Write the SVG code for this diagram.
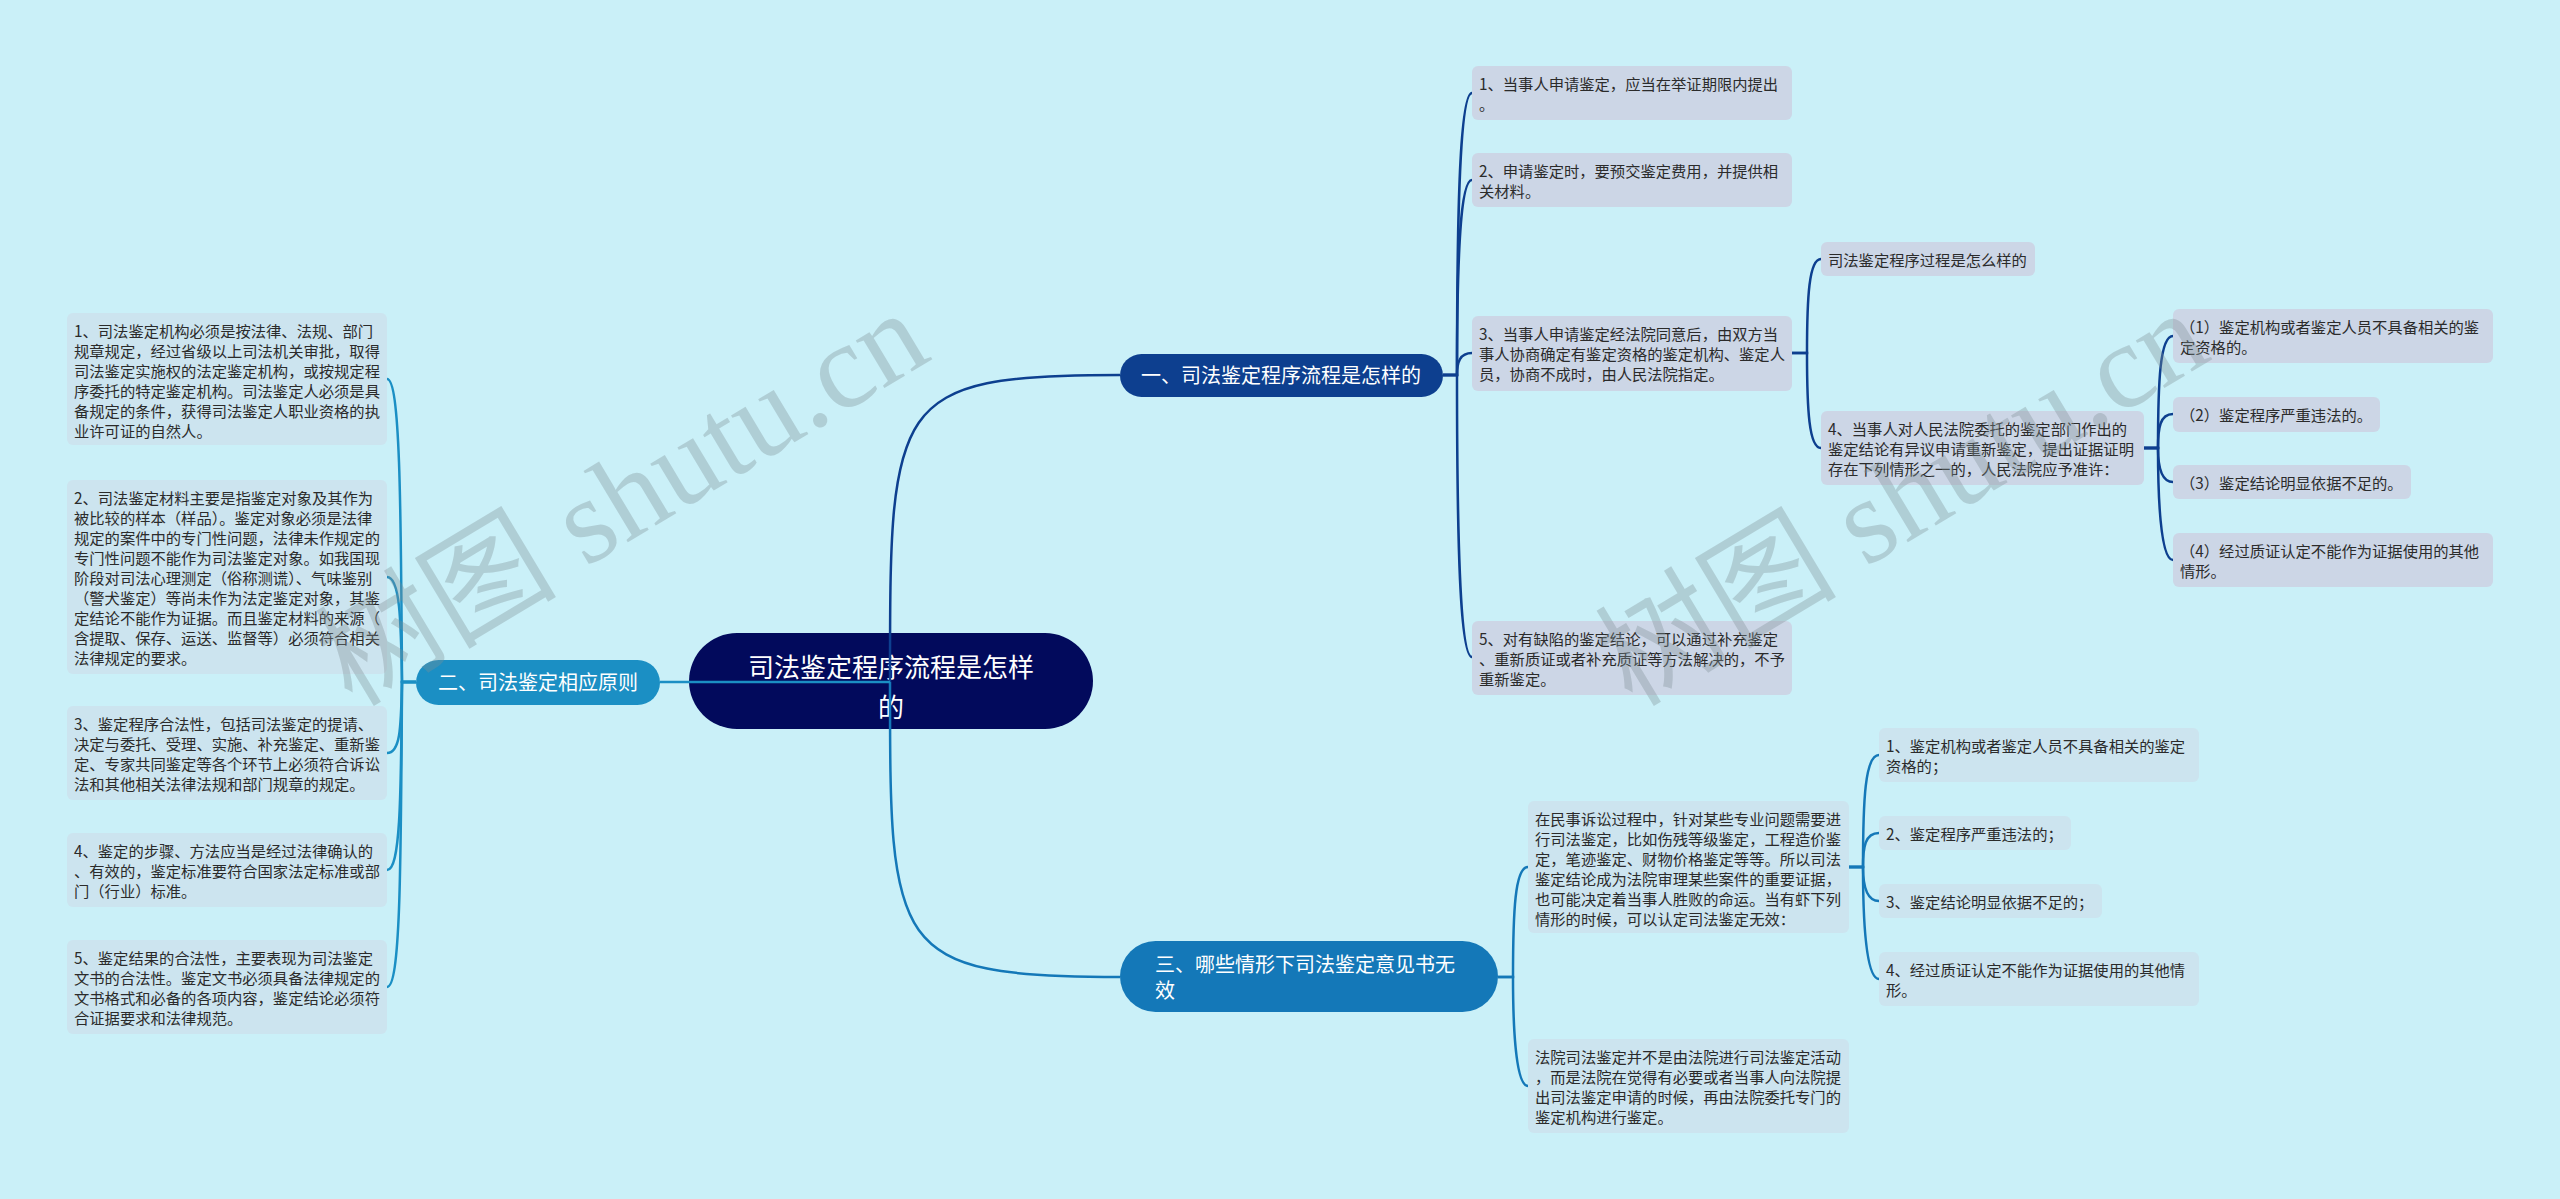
<svg xmlns="http://www.w3.org/2000/svg" width="2560" height="1199" viewBox="0 0 2560 1199">
<style>
.t{font-family:"Noto Sans CJK SC","Noto Sans",sans-serif;font-size:15.3px;fill:#2b2b2b}
.ca{fill:#ccd6e6}
.cb{fill:#cce4ef}
.w{font-family:"Noto Sans CJK SC","Noto Sans",sans-serif;fill:#ffffff}
.l1{fill:none;stroke:#0d3f8f;stroke-width:2.5}
.l2{fill:none;stroke:#1b8fc4;stroke-width:2.5}
.l3{fill:none;stroke:#1478b8;stroke-width:2.5}
.wm{font-family:"Liberation Serif","Noto Sans CJK SC",serif;font-size:121px;fill:#7f8f95;fill-opacity:0.35}
</style>
<rect x="0" y="0" width="2560" height="1199" fill="#caf0f8"/>

<g id="root">
<rect x="689" y="633" width="404" height="96" rx="48" fill="#020a5c"/>
<text class="w" x="891" y="677" font-size="26" text-anchor="middle">司法鉴定程序流程是怎样</text>
<text class="w" x="891" y="717" font-size="26" text-anchor="middle">的</text>
</g>

<g id="connectors">
<path class="l1" d="M890,682 C890,400 890,375 1120,375"/>
<path class="l3" d="M890,682 C890,950 890,977 1120,977"/>
<path class="l2" d="M890,682 H660"/>
<path class="l1" d="M1443,375 H1457 C1457,206 1460,93 1472,93"/>
<path class="l1" d="M1443,375 H1457 C1457,258 1460,180 1472,180"/>
<path class="l1" d="M1443,375 H1457 C1457,362 1460,353 1472,353"/>
<path class="l1" d="M1443,375 H1457 C1457,545 1460,657 1472,657"/>
<path class="l1" d="M1792,353 H1807 C1807,297 1809,259 1821,259"/>
<path class="l1" d="M1792,353 H1807 C1807,410 1809,448 1821,448"/>
<path class="l1" d="M2144,448 H2158 C2158,381 2160,336 2173,336"/>
<path class="l1" d="M2144,448 H2158 C2158,428 2160,414 2173,414"/>
<path class="l1" d="M2144,448 H2158 C2158,462 2160,482 2173,482"/>
<path class="l1" d="M2144,448 H2158 C2158,493 2160,560 2173,560"/>
<path class="l3" d="M1498,977 H1513 C1513,911 1515,867 1528,867"/>
<path class="l3" d="M1498,977 H1513 C1513,1020 1515,1086 1528,1086"/>
<path class="l3" d="M1849,867 H1863 C1863,800 1865,755 1879,755"/>
<path class="l3" d="M1849,867 H1863 C1863,847 1865,833 1879,833"/>
<path class="l3" d="M1849,867 H1863 C1863,881 1865,901 1879,901"/>
<path class="l3" d="M1849,867 H1863 C1863,912 1865,979 1879,979"/>
<path class="l2" d="M416,682 H402 C401,500 400,379 387,379"/>
<path class="l2" d="M416,682 H402 C401,620 400,577 387,577"/>
<path class="l2" d="M416,682 H402 C401,730 400,753 387,753"/>
<path class="l2" d="M416,682 H402 C401,805 400,870 387,870"/>
<path class="l2" d="M416,682 H402 C401,880 400,987 387,987"/>
</g>

<g id="b1">
<rect x="1120" y="354" width="323" height="43" rx="21.5" fill="#0d3f8f"/>
<text class="w" x="1281" y="383" font-size="20" text-anchor="middle">一、司法鉴定程序流程是怎样的</text>
</g>
<g id="b2">
<rect x="416" y="660" width="244" height="45" rx="22.5" fill="#1b8fc4"/>
<text class="w" x="538" y="690" font-size="20" text-anchor="middle">二、司法鉴定相应原则</text>
</g>
<g id="b3">
<rect x="1120" y="941" width="378" height="71" rx="35.5" fill="#1478b8"/>
<text class="w" x="1155" y="972" font-size="20">三、哪些情形下司法鉴定意见书无</text>
<text class="w" x="1155" y="998" font-size="20">效</text>
</g>

<g id="b1-1">
<rect class="ca" x="1472" y="66" width="320" height="54" rx="6"/>
<text class="t" x="1479" y="90">1、当事人申请鉴定，应当在举证期限内提出</text>
<text class="t" x="1479" y="110">。</text>
</g>
<g id="b1-2">
<rect class="ca" x="1472" y="153" width="320" height="54" rx="6"/>
<text class="t" x="1479" y="177">2、申请鉴定时，要预交鉴定费用，并提供相</text>
<text class="t" x="1479" y="197">关材料。</text>
</g>
<g id="b1-3">
<rect class="ca" x="1472" y="316" width="320" height="75" rx="6"/>
<text class="t" x="1479" y="340">3、当事人申请鉴定经法院同意后，由双方当</text>
<text class="t" x="1479" y="360">事人协商确定有鉴定资格的鉴定机构、鉴定人</text>
<text class="t" x="1479" y="380">员，协商不成时，由人民法院指定。</text>
</g>
<g id="b1-5">
<rect class="ca" x="1472" y="621" width="320" height="74" rx="6"/>
<text class="t" x="1479" y="645">5、对有缺陷的鉴定结论，可以通过补充鉴定</text>
<text class="t" x="1479" y="665">、重新质证或者补充质证等方法解决的，不予</text>
<text class="t" x="1479" y="685">重新鉴定。</text>
</g>
<g id="b1-3a">
<rect class="ca" x="1821" y="242" width="214" height="34" rx="6"/>
<text class="t" x="1828" y="266">司法鉴定程序过程是怎么样的</text>
</g>
<g id="b1-3b">
<rect class="ca" x="1821" y="411" width="323" height="74" rx="6"/>
<text class="t" x="1828" y="435">4、当事人对人民法院委托的鉴定部门作出的</text>
<text class="t" x="1828" y="455">鉴定结论有异议申请重新鉴定，提出证据证明</text>
<text class="t" x="1828" y="475">存在下列情形之一的，人民法院应予准许：</text>
</g>
<g id="b1-3b-1">
<rect class="ca" x="2173" y="309" width="320" height="54" rx="6"/>
<text class="t" x="2180" y="333">（1）鉴定机构或者鉴定人员不具备相关的鉴</text>
<text class="t" x="2180" y="353">定资格的。</text>
</g>
<g id="b1-3b-2">
<rect class="ca" x="2173" y="397" width="207" height="35" rx="6"/>
<text class="t" x="2180" y="421">（2）鉴定程序严重违法的。</text>
</g>
<g id="b1-3b-3">
<rect class="ca" x="2173" y="465" width="238" height="34" rx="6"/>
<text class="t" x="2180" y="489">（3）鉴定结论明显依据不足的。</text>
</g>
<g id="b1-3b-4">
<rect class="ca" x="2173" y="533" width="320" height="54" rx="6"/>
<text class="t" x="2180" y="557">（4）经过质证认定不能作为证据使用的其他</text>
<text class="t" x="2180" y="577">情形。</text>
</g>

<g id="b2-1">
<rect class="cb" x="67" y="313" width="320" height="132" rx="6"/>
<text class="t" x="74" y="337">1、司法鉴定机构必须是按法律、法规、部门</text>
<text class="t" x="74" y="357">规章规定，经过省级以上司法机关审批，取得</text>
<text class="t" x="74" y="377">司法鉴定实施权的法定鉴定机构，或按规定程</text>
<text class="t" x="74" y="397">序委托的特定鉴定机构。司法鉴定人必须是具</text>
<text class="t" x="74" y="417">备规定的条件，获得司法鉴定人职业资格的执</text>
<text class="t" x="74" y="437">业许可证的自然人。</text>
</g>
<g id="b2-2">
<rect class="cb" x="67" y="480" width="320" height="194" rx="6"/>
<text class="t" x="74" y="504">2、司法鉴定材料主要是指鉴定对象及其作为</text>
<text class="t" x="74" y="524">被比较的样本（样品）。鉴定对象必须是法律</text>
<text class="t" x="74" y="544">规定的案件中的专门性问题，法律未作规定的</text>
<text class="t" x="74" y="564">专门性问题不能作为司法鉴定对象。如我国现</text>
<text class="t" x="74" y="584">阶段对司法心理测定（俗称测谎）、气味鉴别</text>
<text class="t" x="74" y="604">（警犬鉴定）等尚未作为法定鉴定对象，其鉴</text>
<text class="t" x="74" y="624">定结论不能作为证据。而且鉴定材料的来源（</text>
<text class="t" x="74" y="644">含提取、保存、运送、监督等）必须符合相关</text>
<text class="t" x="74" y="664">法律规定的要求。</text>
</g>
<g id="b2-3">
<rect class="cb" x="67" y="706" width="320" height="94" rx="6"/>
<text class="t" x="74" y="730">3、鉴定程序合法性，包括司法鉴定的提请、</text>
<text class="t" x="74" y="750">决定与委托、受理、实施、补充鉴定、重新鉴</text>
<text class="t" x="74" y="770">定、专家共同鉴定等各个环节上必须符合诉讼</text>
<text class="t" x="74" y="790">法和其他相关法律法规和部门规章的规定。</text>
</g>
<g id="b2-4">
<rect class="cb" x="67" y="833" width="320" height="74" rx="6"/>
<text class="t" x="74" y="857">4、鉴定的步骤、方法应当是经过法律确认的</text>
<text class="t" x="74" y="877">、有效的，鉴定标准要符合国家法定标准或部</text>
<text class="t" x="74" y="897">门（行业）标准。</text>
</g>
<g id="b2-5">
<rect class="cb" x="67" y="940" width="320" height="94" rx="6"/>
<text class="t" x="74" y="964">5、鉴定结果的合法性，主要表现为司法鉴定</text>
<text class="t" x="74" y="984">文书的合法性。鉴定文书必须具备法律规定的</text>
<text class="t" x="74" y="1004">文书格式和必备的各项内容，鉴定结论必须符</text>
<text class="t" x="74" y="1024">合证据要求和法律规范。</text>
</g>

<g id="b3-A">
<rect class="cb" x="1528" y="801" width="321" height="132" rx="6"/>
<text class="t" x="1535" y="825">在民事诉讼过程中，针对某些专业问题需要进</text>
<text class="t" x="1535" y="845">行司法鉴定，比如伤残等级鉴定，工程造价鉴</text>
<text class="t" x="1535" y="865">定，笔迹鉴定、财物价格鉴定等等。所以司法</text>
<text class="t" x="1535" y="885">鉴定结论成为法院审理某些案件的重要证据，</text>
<text class="t" x="1535" y="905">也可能决定着当事人胜败的命运。当有虾下列</text>
<text class="t" x="1535" y="925">情形的时候，可以认定司法鉴定无效：</text>
</g>
<g id="b3-B">
<rect class="cb" x="1528" y="1039" width="321" height="94" rx="6"/>
<text class="t" x="1535" y="1063">法院司法鉴定并不是由法院进行司法鉴定活动</text>
<text class="t" x="1535" y="1083">，而是法院在觉得有必要或者当事人向法院提</text>
<text class="t" x="1535" y="1103">出司法鉴定申请的时候，再由法院委托专门的</text>
<text class="t" x="1535" y="1123">鉴定机构进行鉴定。</text>
</g>
<g id="b3-A-1">
<rect class="cb" x="1879" y="728" width="320" height="54" rx="6"/>
<text class="t" x="1886" y="752">1、鉴定机构或者鉴定人员不具备相关的鉴定</text>
<text class="t" x="1886" y="772">资格的；</text>
</g>
<g id="b3-A-2">
<rect class="cb" x="1879" y="816" width="192" height="34" rx="6"/>
<text class="t" x="1886" y="840">2、鉴定程序严重违法的；</text>
</g>
<g id="b3-A-3">
<rect class="cb" x="1879" y="884" width="223" height="34" rx="6"/>
<text class="t" x="1886" y="908">3、鉴定结论明显依据不足的；</text>
</g>
<g id="b3-A-4">
<rect class="cb" x="1879" y="952" width="320" height="54" rx="6"/>
<text class="t" x="1886" y="976">4、经过质证认定不能作为证据使用的其他情</text>
<text class="t" x="1886" y="996">形。</text>
</g>

<g id="watermark">
<text class="wm" transform="translate(352,708) rotate(-31)">树图 shutu.cn</text>
<text class="wm" transform="translate(1632,708) rotate(-31)">树图 shutu.cn</text>
</g>
</svg>
